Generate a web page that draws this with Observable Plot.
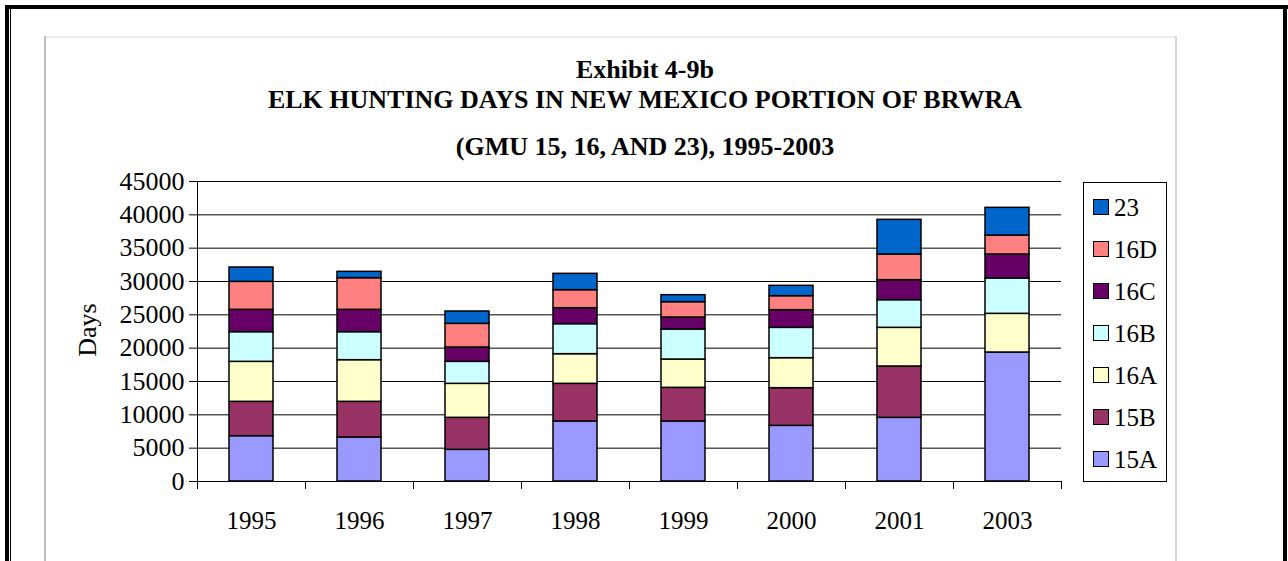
<!DOCTYPE html>
<html>
<head>
<meta charset="utf-8">
<script src="https://cdn.jsdelivr.net/npm/d3@7"></script>
<script src="https://cdn.jsdelivr.net/npm/@observablehq/plot@0.6"></script>
<style>
html, body { margin: 0; padding: 0; background: #fff; }
body { position: relative; width: 1288px; height: 561px; overflow: hidden; font-family: "Liberation Serif", "Times New Roman", serif; color: #000; }
.abs { position: absolute; }
.title { position: absolute; left: 0; width: 1290px; text-align: center; font-weight: bold; font-size: 26px; line-height: 26px; white-space: nowrap; }
#chart { position: absolute; left: 0; top: 0; }
#ylabel { position: absolute; left: 88px; top: 330px; font-size: 26px; line-height: 26px; transform: translate(-50%, -50%) rotate(-90deg); white-space: nowrap; }
#legend { position: absolute; left: 1083px; top: 182px; width: 82px; height: 295px; border: 1px solid #000; box-sizing: content-box; padding-top: 3px; }
.item { display: flex; align-items: center; height: 42px; }
.sw { width: 14px; height: 14px; border: 1.5px solid #000; margin-left: 9px; margin-right: 5px; }
.lab { font-size: 25px; line-height: 25px; }
</style>
</head>
<body>
<!-- page border -->
<div class="abs" style="left:5px; top:5px; width:1283px; height:3.5px; background:#000;"></div>
<div class="abs" style="left:5px; top:5px; width:3.5px; height:556px; background:#000;"></div>
<div class="abs" style="left:9.5px; top:8px; width:1.3px; height:553px; background:#000;"></div>
<div class="abs" style="left:1283px; top:5px; width:4px; height:556px; background:#000;"></div>
<!-- chart frame -->
<div class="abs" style="left:44px; top:36px; width:1133px; height:1.6px; background:#ececec;"></div>
<div class="abs" style="left:44px; top:36px; width:1.8px; height:525px; background:#bdbdbd;"></div>
<div class="abs" style="left:1175px; top:36px; width:1.8px; height:525px; background:#d9d9d9;"></div>

<div class="title" style="top:56.5px;">Exhibit 4-9b</div>
<div class="title" style="top:87.2px;">ELK HUNTING DAYS IN NEW MEXICO PORTION OF BRWRA</div>
<div class="title" style="top:133.7px;">(GMU 15, 16, AND 23), 1995-2003</div>
<div id="ylabel">Days</div>
<div id="chart"></div>
<div id="legend"></div>

<script>
const years = ["1995", "1996", "1997", "1998", "1999", "2000", "2001", "2003"];
const series = ["15A", "15B", "16A", "16B", "16C", "16D", "23"];
const colors = ["#9999FF", "#993366", "#FFFFCC", "#CCFFFF", "#660066", "#FF8080", "#0066CC"];

const v15A = [6800, 6600, 4750, 9000, 9000, 8350, 9550, 19350];
const v15B = [5150, 5350, 4800, 5650, 5050, 5650, 7700, 0];
const v16A = [6000, 6250, 5100, 4450, 4250, 4500, 5800, 5800];
const v16B = [4450, 4200, 3300, 4500, 4500, 4550, 4150, 5300];
const v16C = [3350, 3350, 2150, 2400, 1800, 2650, 3000, 3600];
const v16D = [4200, 4750, 3550, 2700, 2300, 2100, 3850, 2850];
const v23  = [2150, 950, 1850, 2450, 1050, 1550, 5200, 4150];

const yTicks = [0, 5000, 10000, 15000, 20000, 25000, 30000, 35000, 40000, 45000];

const values = [v15A, v15B, v16A, v16B, v16C, v16D, v23];
const rows = [];
series.forEach((s, si) => {
  years.forEach((yr, yi) => {
    const v = values[si][yi];
    if (v > 0) rows.push({year: yr, series: s, days: v});
  });
});

const chart = Plot.plot({
  width: 1288,
  height: 561,
  marginLeft: 197,
  marginRight: 227,
  marginTop: 181,
  marginBottom: 80,
  style: {background: "transparent", fontFamily: "'Liberation Serif', 'Times New Roman', serif", fontSize: "26px", color: "#000", overflow: "visible"},
  x: {type: "band", domain: years, paddingInner: 0.59, paddingOuter: 0.295},
  y: {domain: [0, 45000]},
  color: {domain: series, range: colors},
  marks: [
    Plot.ruleY(yTicks.slice(1), {stroke: "#000", strokeWidth: 1}),
    Plot.barY(rows, {x: "year", y: "days", fill: "series", stroke: "#000", strokeWidth: 1.5, order: series}),
    Plot.frame({anchor: "left", stroke: "#000"}),
    Plot.ruleY([0], {stroke: "#000"}),
    Plot.ruleX(years, {x: d => d, y1: 0, y2: 0, insetBottom: -8, dx: -54, stroke: "#000"}),
    Plot.ruleX(years.slice(-1), {x: d => d, y1: 0, y2: 0, insetBottom: -8, dx: 54, stroke: "#000"}),
    Plot.axisY({ticks: yTicks, tickSize: 8, tickPadding: 5, tickFormat: d => String(d), label: null, fontSize: 26}),
    Plot.axisX({tickSize: 0, tickPadding: 30, label: null, fontSize: 25})
  ]
});
document.getElementById("chart").appendChild(chart);

const legend = document.getElementById("legend");
series.slice().reverse().forEach(s => {
  const item = document.createElement("div");
  item.className = "item";
  const sw = document.createElement("div");
  sw.className = "sw";
  sw.style.background = colors[series.indexOf(s)];
  const lab = document.createElement("span");
  lab.className = "lab";
  lab.textContent = s;
  item.appendChild(sw);
  item.appendChild(lab);
  legend.appendChild(item);
});
</script>
</body>
</html>
